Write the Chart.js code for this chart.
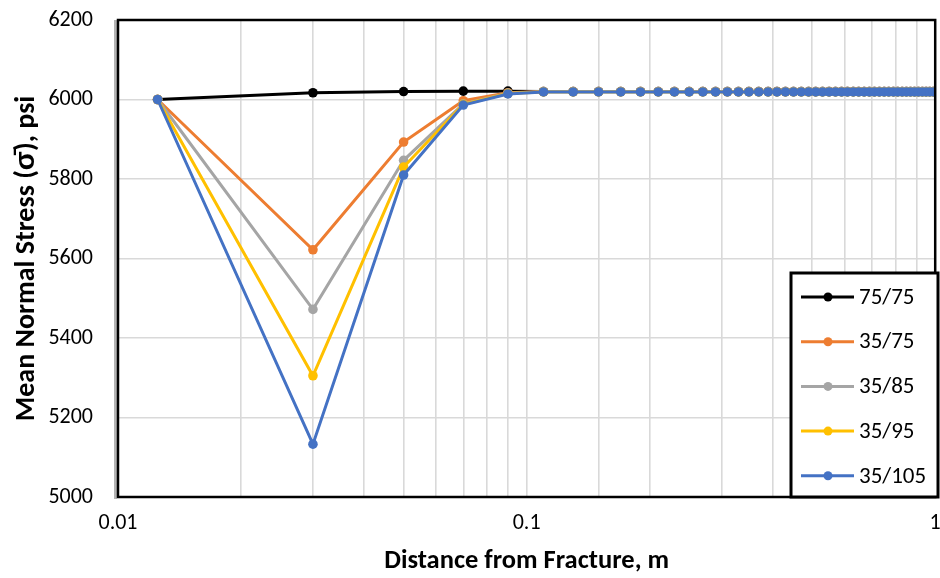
<!DOCTYPE html>
<html>
<head>
<meta charset="utf-8">
<script src="https://cdn.jsdelivr.net/npm/chart.js@4/dist/chart.umd.min.js"></script>
<style>
  html, body { margin: 0; padding: 0; background: #fff; }
  #wrap { width: 940px; height: 578px; }
</style>
</head>
<body>
<div id="wrap"><canvas id="c" width="940" height="578"></canvas></div>
<script>
// ---- data ----
const distances = [0.0125, 0.03, 0.05, 0.07, 0.09,
  0.11, 0.13, 0.15, 0.17, 0.19, 0.21, 0.23, 0.25, 0.27, 0.29,
  0.31, 0.33, 0.35, 0.37, 0.39, 0.41, 0.43, 0.45, 0.47, 0.49,
  0.51, 0.53, 0.55, 0.57, 0.59, 0.61, 0.63, 0.65, 0.67, 0.69,
  0.71, 0.73, 0.75, 0.77, 0.79, 0.81, 0.83, 0.85, 0.87, 0.89,
  0.91, 0.93, 0.95, 0.97, 0.99];

const series75_75 = [6000, 6017, 6020, 6021, 6021,
  6020, 6020, 6020, 6020, 6020, 6020, 6020, 6020, 6020, 6020,
  6020, 6020, 6020, 6020, 6020, 6020, 6020, 6020, 6020, 6020,
  6020, 6020, 6020, 6020, 6020, 6020, 6020, 6020, 6020, 6020,
  6020, 6020, 6020, 6020, 6020, 6020, 6020, 6020, 6020, 6020,
  6020, 6020, 6020, 6020, 6020];
const series35_75 = [6000, 5622, 5893, 5997, 6017,
  6020, 6020, 6020, 6020, 6020, 6020, 6020, 6020, 6020, 6020,
  6020, 6020, 6020, 6020, 6020, 6020, 6020, 6020, 6020, 6020,
  6020, 6020, 6020, 6020, 6020, 6020, 6020, 6020, 6020, 6020,
  6020, 6020, 6020, 6020, 6020, 6020, 6020, 6020, 6020, 6020,
  6020, 6020, 6020, 6020, 6020];
const series35_85 = [6000, 5472, 5847, 5989, 6016,
  6020, 6020, 6020, 6020, 6020, 6020, 6020, 6020, 6020, 6020,
  6020, 6020, 6020, 6020, 6020, 6020, 6020, 6020, 6020, 6020,
  6020, 6020, 6020, 6020, 6020, 6020, 6020, 6020, 6020, 6020,
  6020, 6020, 6020, 6020, 6020, 6020, 6020, 6020, 6020, 6020,
  6020, 6020, 6020, 6020, 6020];
const series35_95 = [6000, 5305, 5830, 5988, 6015,
  6019, 6019, 6019, 6019, 6019, 6019, 6019, 6019, 6019, 6019,
  6019, 6019, 6019, 6019, 6019, 6019, 6019, 6019, 6019, 6019,
  6019, 6019, 6019, 6019, 6019, 6019, 6019, 6019, 6019, 6019,
  6019, 6019, 6019, 6019, 6019, 6019, 6019, 6019, 6019, 6019,
  6019, 6019, 6019, 6019, 6019];
const series35_105 = [6000, 5133, 5810, 5986, 6014,
  6019, 6019, 6019, 6019, 6019, 6019, 6019, 6019, 6019, 6019,
  6019, 6019, 6019, 6019, 6019, 6019, 6019, 6019, 6019, 6019,
  6019, 6019, 6019, 6019, 6019, 6019, 6019, 6019, 6019, 6019,
  6019, 6019, 6019, 6019, 6019, 6019, 6019, 6019, 6019, 6019,
  6019, 6019, 6019, 6019, 6019];

const seriesNames = ['75/75', '35/75', '35/85', '35/95', '35/105'];
const seriesValues = [series75_75, series35_75, series35_85, series35_95, series35_105];
const seriesColors = ['#000000', '#ED7D31', '#A5A5A5', '#FFC000', '#4472C4'];

const xTickLabels = [0.01, 0.1, 1];
const yMin = 5000, yMax = 6200, yStep = 200;

const xTitle = 'Distance from Fracture, m';
const yTitle = 'Mean Normal Stress (\u03C3\u0304), psi';

// ---- build datasets ----
const datasets = seriesNames.map((name, i) => ({
  label: name,
  data: distances.map((d, j) => ({ x: d, y: seriesValues[i][j] })),
  borderColor: seriesColors[i],
  backgroundColor: seriesColors[i],
  borderWidth: 3,
  pointRadius: 4.8,
  pointHoverRadius: 4.8,
  pointBorderWidth: 0,
  showLine: true,
  tension: 0,
  order: seriesNames.length - i
}));

const FONT = "Carlito, Calibri, 'Liberation Sans', sans-serif";

const framePlugin = {
  id: 'frame',
  afterDatasetsDraw(chart) {
    const a = chart.chartArea, ctx = chart.ctx;
    ctx.save();
    // soft grey shadow on the left edge
    ctx.strokeStyle = '#b4b4b4';
    ctx.lineWidth = 3;
    ctx.beginPath();
    ctx.moveTo(a.left - 2.5, a.top);
    ctx.lineTo(a.left - 2.5, a.bottom + 2);
    ctx.stroke();
    ctx.strokeStyle = '#000';
    ctx.lineWidth = 2.5;
    ctx.strokeRect(a.left, a.top, a.right - a.left, a.bottom - a.top);
    ctx.restore();
  }
};

const legendPlugin = {
  id: 'boxLegend',
  afterDraw(chart) {
    const ctx = chart.ctx;
    const bx = 791, by = 273, bw = 147, bh = 224;
    ctx.save();
    ctx.fillStyle = '#fff';
    ctx.fillRect(bx, by, bw, bh);
    ctx.strokeStyle = '#000';
    ctx.lineWidth = 3;
    ctx.strokeRect(bx, by, bw, bh);
    ctx.font = '23px ' + FONT;
    ctx.textBaseline = 'middle';
    ctx.textAlign = 'left';
    chart.data.datasets.forEach((ds, i) => {
      const cy = 297 + i * 44.7;
      ctx.strokeStyle = ds.borderColor;
      ctx.lineWidth = 3;
      ctx.beginPath();
      ctx.moveTo(801, cy);
      ctx.lineTo(854, cy);
      ctx.stroke();
      ctx.fillStyle = ds.borderColor;
      ctx.beginPath();
      ctx.arc(828, cy, 4.5, 0, Math.PI * 2);
      ctx.fill();
      ctx.fillStyle = '#000';
      ctx.fillText(ds.label, 859, cy + 1);
    });
    ctx.restore();
  }
};

new Chart(document.getElementById('c'), {
  type: 'scatter',
  data: { datasets },
  plugins: [framePlugin, legendPlugin],
  options: {
    responsive: false,
    animation: false,
    devicePixelRatio: 1,
    layout: { padding: { top: 20, right: 2, left: 0, bottom: 0 } },
    plugins: {
      legend: { display: false },
      tooltip: { enabled: false }
    },
    scales: {
      x: {
        type: 'logarithmic',
        min: 0.01,
        max: 1,
        grid: { color: '#d9d9d9', lineWidth: 1.6, drawTicks: false },
        border: { display: false },
        ticks: {
          autoSkip: false,
          maxRotation: 0,
          padding: 13,
          color: '#000',
          font: { family: FONT, size: 22 },
          callback: (v) => {
            const hit = xTickLabels.find(t => Math.abs(t - v) / t < 1e-6);
            return hit !== undefined ? String(hit) : '';
          }
        },
        title: {
          display: true,
          text: xTitle,
          color: '#000',
          font: { family: FONT, size: 26.5, weight: 'bold' },
          padding: { top: 0, bottom: 1 }
        },
        afterFit(scale) {
          scale.height = 81;
          scale.paddingLeft = 0;
          scale.paddingRight = 0;
        }
      },
      y: {
        min: yMin,
        max: yMax,
        grid: { color: '#d9d9d9', lineWidth: 1.6, drawTicks: false },
        border: { display: false },
        ticks: {
          stepSize: yStep,
          padding: 25,
          color: '#000',
          font: { family: FONT, size: 22 },
          callback: (v) => String(v)
        },
        title: {
          display: true,
          text: yTitle,
          color: '#000',
          font: { family: FONT, size: 28, weight: 'bold' },
          padding: { top: 10, bottom: 0 }
        },
        afterFit(scale) {
          scale.width = 118;
          scale.paddingTop = 0;
          scale.paddingBottom = 0;
        }
      }
    }
  }
});
</script>
</body>
</html>
